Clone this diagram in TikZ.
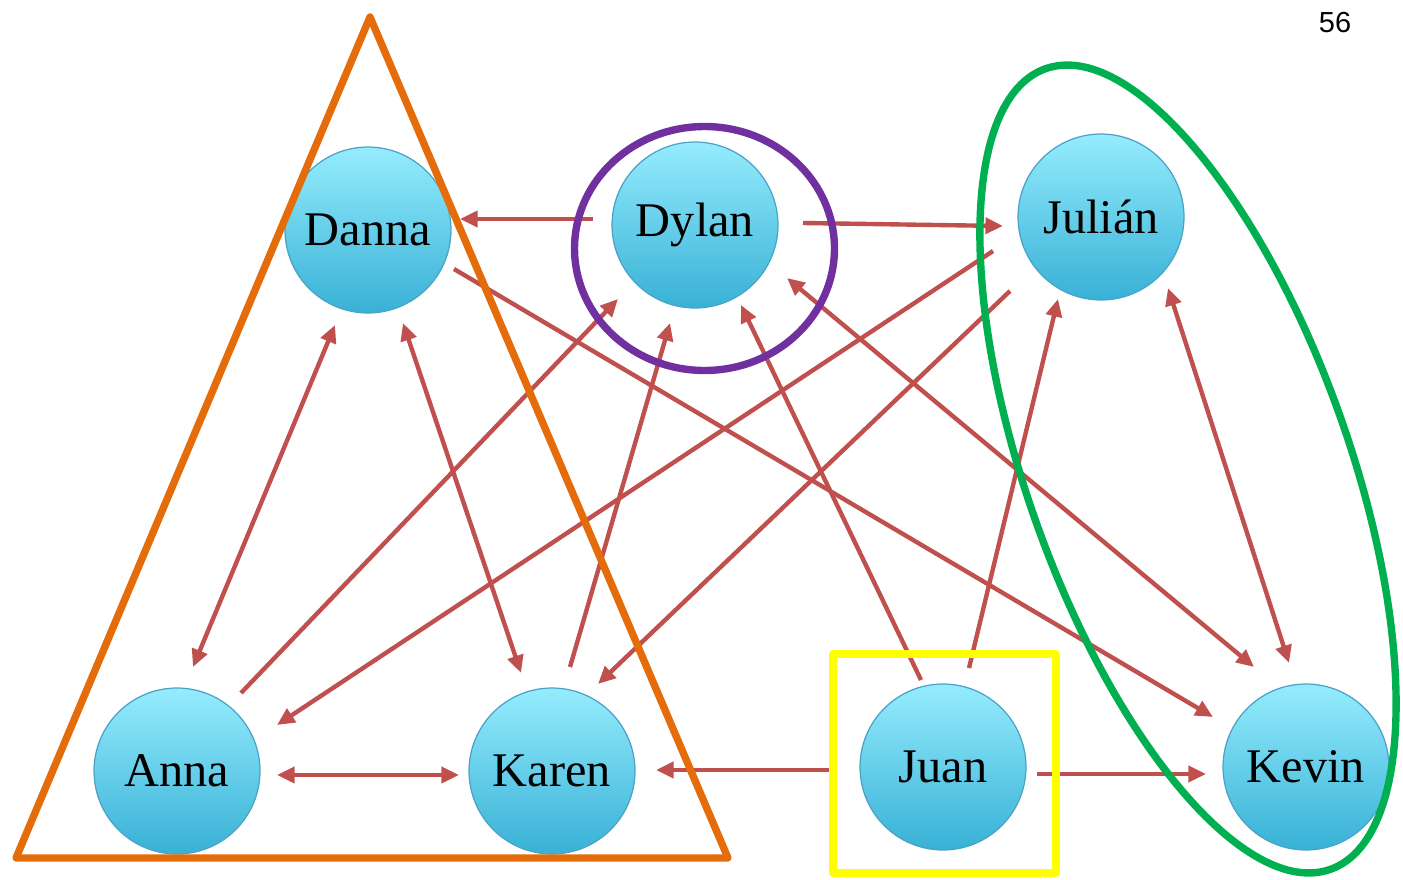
\documentclass[tikz,border=0pt]{standalone}
\usepackage{fontspec}
\setmainfont{Liberation Serif}
\newfontfamily\pagenumfont{Liberation Sans}
\usetikzlibrary{arrows.meta,calc}
\definecolor{arrowred}{HTML}{C0504D}
\definecolor{circtop}{HTML}{95ECFD}
\definecolor{circbot}{HTML}{38B1D6}
\definecolor{circborder}{HTML}{4AA3C6}
\definecolor{grouporange}{HTML}{E46C0A}
\definecolor{groupviolet}{HTML}{7030A0}
\definecolor{groupgreen}{HTML}{00B050}
\definecolor{groupyellow}{HTML}{FFFF00}
\begin{document}
\begin{tikzpicture}[x=0.02cm,y=-0.02cm,
  person/.style={circle, minimum size=3.32cm, inner sep=0pt, draw=circborder, line width=0.7pt,
    top color=circtop, bottom color=circbot, font=\fontsize{27.5}{30}\selectfont},
  rel/.style={draw=arrowred, line width=2.5pt, -{Triangle[length=10pt,width=9pt]}},
  both/.style={draw=arrowred, line width=2.5pt, {Triangle[length=10pt,width=9pt]}-{Triangle[length=10pt,width=9pt]}},
  group/.style={line width=4.2pt, line join=round}]
\useasboundingbox (0,0) rectangle (1403,879);

% people
\node[person] (danna) at (368,230) {Danna};
\node[person] (dylan) at (695,225) {Dylan};
\node[person] (julian) at (1101,217) {Julián};
\node[person] (anna) at (177,771) {Anna};
\node[person] (karen) at (552,771) {Karen};
\node[person] (juan) at (943,767) {Juan};
\node[person] (kevin) at (1306,767) {Kevin};

% relations
\draw[rel]  ($(dylan.center)+(-102,-6)$) -- ($(danna.center)+(92,-11)$);
\draw[rel]  ($(dylan.center)+(108,-2)$) -- ($(julian.center)+(-98,9)$);
\draw[both] ($(danna.center)+(-33,95)$) -- ($(anna.center)+(16,-104)$);
\draw[both] ($(danna.center)+(35,93)$) -- ($(karen.center)+(-31,-98)$);
\draw[rel]  ($(danna.center)+(86,39)$) -- ($(kevin.center)+(-93,-50)$);
\draw[rel]  ($(anna.center)+(64,-78)$) -- ($(dylan.center)+(-77,74)$);
\draw[rel]  ($(karen.center)+(18,-104)$) -- ($(dylan.center)+(-25,98)$);
\draw[rel]  ($(julian.center)+(-108,34)$) -- ($(anna.center)+(100,-46)$);
\draw[rel]  ($(julian.center)+(-91,74)$) -- ($(karen.center)+(46,-87)$);
\draw[rel]  ($(juan.center)+(-22,-87)$) -- ($(dylan.center)+(46,80)$);
\draw[rel]  ($(juan.center)+(26,-99)$) -- ($(julian.center)+(-43,82)$);
\draw[both] ($(dylan.center)+(92,53)$) -- ($(kevin.center)+(-52,-100)$);
\draw[both] ($(julian.center)+(67,71)$) -- ($(kevin.center)+(-17,-104)$);
\draw[both] ($(anna.center)+(100,4)$) -- ($(karen.center)+(-93,4)$);
\draw[rel]  ($(juan.center)+(-113,3)$) -- ($(karen.center)+(104,-1)$);
\draw[rel]  ($(juan.center)+(94,7)$) -- ($(kevin.center)+(-100,7)$);

% groups
\draw[group, draw=grouporange] (370,17) -- (16,858) -- (728,858) -- cycle;
\draw[group, draw=groupviolet] (704.5,248.5) ellipse [x radius=2.6cm, y radius=2.44cm];
\draw[group, draw=groupgreen, rotate around={19.6:(1188,469)}] (1188,469) ellipse [x radius=3.22cm, y radius=8.5cm];
\draw[group, draw=groupyellow] (833,654) rectangle (1056,873);

% page number
\node[font=\pagenumfont\fontsize{16.5}{18}\selectfont] (pagenum) at (1335,23) {56};
\end{tikzpicture}
\end{document}
